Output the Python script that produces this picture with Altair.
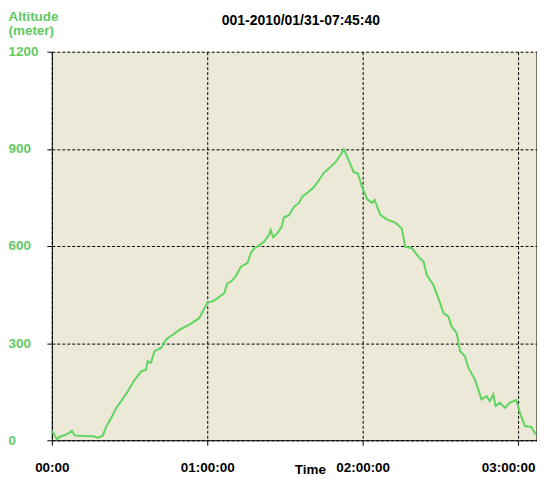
import altair as alt
import pandas as pd

# elapsed time in minutes and altitude in meters
minutes = [0.1, 2.0, 3.1, 5.7, 7.8, 8.8, 12.0, 15.9, 17.8, 19.7, 21.0, 23.0, 24.9, 26.8,
           29.0, 31.9, 34.5, 36.4, 37.0, 38.3, 39.6, 42.2, 44.1, 46.7, 49.2, 53.1, 56.9,
           60.1, 62.0, 64.0, 66.5, 67.8, 69.1, 71.0, 73.0, 75.5, 76.8, 78.1, 79.3, 81.9,
           83.8, 84.5, 85.4, 87.0, 88.7, 89.6, 91.5, 93.5, 95.4, 96.7, 98.6, 101.2, 103.1,
           105.0, 106.9, 109.5, 111.4, 112.7, 114.6, 116.5, 118.2, 119.7, 121.7, 123.6,
           124.6, 126.8, 129.3, 132.6, 135.1, 136.4, 139.0, 141.5, 143.5, 144.7, 147.3,
           149.2, 151.2, 153.1, 154.3, 156.3, 157.6, 159.5, 160.8, 163.3, 164.6, 165.9,
           167.8, 169.1, 170.4, 171.3, 173.0, 174.9, 176.8, 179.3, 180.7, 182.6, 185.1, 186.8]
altitude = [29, 3, 11, 18, 29, 15, 13, 12, 8, 15, 42, 70, 100, 121,
            147, 186, 213, 218, 244, 239, 275, 285, 311, 326, 341, 357, 377,
            426, 429, 439, 454, 485, 490, 506, 536, 547, 578, 593, 598, 613,
            634, 649, 627, 639, 659, 688, 695, 721, 733, 752, 764, 782, 803,
            826, 839, 859, 880, 899, 865, 829, 824, 784, 745, 733,
            742, 696, 682, 672, 654, 598, 593, 567, 552, 511, 480,
            439, 393, 382, 352, 331, 275, 259, 224, 188, 157, 126,
            136, 121, 142, 106, 116, 100, 116, 124, 85, 44, 41, 18]

x_ticks = [0, 60, 120, 180]
y_ticks = [0, 300, 600, 900, 1200]
title_text = "001-2010/01/31-07:45:40"
x_title = "Time"
y_title = ["Altitude", "(meter)"]

df = pd.DataFrame({"minutes": minutes, "altitude": altitude})

GREEN_LINE = "#5FD65F"
GREEN_TEXT = "#62C962"
FONT = "Liberation Sans"
W, H = 487, 390

line = alt.Chart(df).mark_line(color=GREEN_LINE, strokeWidth=2).encode(
    x=alt.X("minutes:Q",
            scale=alt.Scale(domain=[0, 187.3], nice=False, zero=False),
            axis=alt.Axis(values=x_ticks,
                          labelExpr="datum.value == 0 ? '00:00' : '0' + floor(datum.value/60) + ':00:00'",
                          grid=True, gridColor="black", gridDash=[3, 2], gridOpacity=1, gridWidth=1,
                          domainColor="black", domainWidth=1,
                          tickColor="black", tickSize=5, tickWidth=1,
                          labelColor="black", labelFont=FONT, labelFontSize=13.5, labelFontWeight="bold",
                          labelFlush=False, labelOverlap=False, labelPadding=26,
                          labelBaseline="alphabetic",
                          labelOffset={"condition": {"test": "datum.value == 180", "value": -10}, "value": 0},
                          title=x_title, titleX=259, titleY=33, titleBaseline="alphabetic",
                          titleAlign="center", titleColor="black", titleFont=FONT,
                          titleFontSize=13.5, titleFontWeight="bold")),
    y=alt.Y("altitude:Q",
            scale=alt.Scale(domain=[0, 1200], nice=False),
            axis=alt.Axis(values=y_ticks, format="d",
                          grid=True, gridColor="black", gridDash=[3, 2], gridOpacity=1, gridWidth=1,
                          domainColor="black", domainWidth=1,
                          tickColor="black", tickSize=5, tickWidth=1,
                          labelColor=GREEN_TEXT, labelFont=FONT, labelFontSize=13.5, labelFontWeight="bold",
                          labelAlign="left", labelPadding=39, labelBaseline="middle",
                          labelFlush=False, labelOverlap=False,
                          title=y_title, titleX=-44, titleY=-31, titleAngle=0, titleAlign="left",
                          titleBaseline="alphabetic", titleColor=GREEN_TEXT, titleFont=FONT,
                          titleFontSize=13.5, titleFontWeight="bold", titleLineHeight=13.5)),
)

one = alt.Data(values=[{}])
right_border = alt.Chart(one).mark_rule(color="black", strokeWidth=1).encode(
    x=alt.value(W), y=alt.value(0), y2=alt.value(H))

title = alt.Chart(one).mark_text(font=FONT, fontSize=14, fontWeight="bold", color="black",
                                 align="center", baseline="alphabetic").encode(
    x=alt.value(250), y=alt.value(-26.5), text=alt.value(title_text))

chart = alt.layer(line, right_border, title).properties(
    width=W, height=H,
    autosize=alt.AutoSizeParams(type="none"),
    padding={"left": 44, "top": 43, "right": 0, "bottom": 36},
    background="white",
).configure_view(stroke=None, fill="#ECE9D8")

chart.save("out.html", embed_options={"renderer": "svg", "actions": False})
